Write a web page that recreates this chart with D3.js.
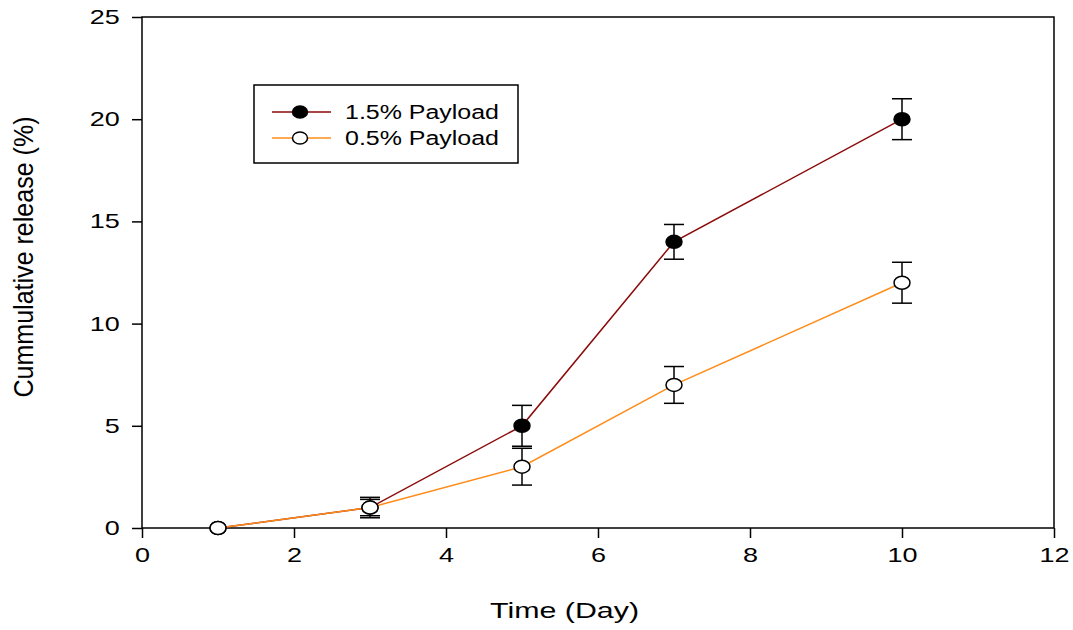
<!DOCTYPE html>
<html>
<head>
<meta charset="utf-8">
<script src="https://cdn.jsdelivr.net/npm/d3@7"></script>
<style>
  body { margin: 0; background: #fff; }
  text { font-family: "Liberation Sans", Arial, sans-serif; }
</style>
</head>
<body>
<div id="chart"></div>
<script>
// du lieu doc tu hinh
var days = [1, 3, 5, 7, 10];
var payload15 = [0, 1, 5, 14, 20];
var err15 = [0, 0.5, 1.0, 0.85, 1.0];
var payload05 = [0, 1, 3, 7, 12];
var err05 = [0, 0.4, 0.9, 0.9, 1.0];
var xTicks = [0, 2, 4, 6, 8, 10, 12];
var yTicks = [0, 5, 10, 15, 20, 25];
var labels = ["1.5% Payload", "0.5% Payload"];

var width = 1073;
var height = 630;
var margin = {top: 17, right: 19, bottom: 102, left: 142};
var w = width - margin.left - margin.right;
var h = height - margin.top - margin.bottom;
var stretch = 1.35; // chu trong hinh goc bi keo gian ngang

var svg = d3.select("#chart")
  .append("svg")
  .attr("width", width)
  .attr("height", height)
  .append("g")
  .attr("transform", "translate(" + margin.left + "," + margin.top + ")");

var x = d3.scaleLinear().domain([0, 12]).range([0, w]);
var y = d3.scaleLinear().domain([0, 25]).range([h, 0]);

// khung
svg.append("rect")
  .attr("width", w).attr("height", h)
  .attr("fill", "none").attr("stroke", "#000").attr("stroke-width", 1.5);

// truc x
var gx = svg.append("g")
  .attr("transform", "translate(0," + h + ")")
  .call(d3.axisBottom(x).tickValues(xTicks).tickSize(10).tickPadding(10));
gx.select(".domain").remove();
gx.selectAll("line").attr("stroke-width", 1.5);
gx.selectAll("text").attr("font-size", "20px").attr("font-family", "Liberation Sans, Arial")
  .attr("transform", "scale(" + stretch + ",1)");

// truc y
var gy = svg.append("g")
  .call(d3.axisLeft(y).tickValues(yTicks).tickSize(10).tickPadding(6.5));
gy.select(".domain").remove();
gy.selectAll("line").attr("stroke-width", 1.5);
gy.selectAll("text").attr("font-size", "20px").attr("font-family", "Liberation Sans, Arial")
  .attr("transform", "scale(" + stretch + ",1)");

var series = [
  {vals: payload15, errs: err15, color: "#8b0a0a", fill: "#000"},
  {vals: payload05, errs: err05, color: "#ff8c1a", fill: "#fff"}
];

var line = d3.line()
  .x(function(d) { return x(d[0]); })
  .y(function(d) { return y(d[1]); });

series.forEach(function(s) {
  var pts = days.map(function(d, i) { return [d, s.vals[i], s.errs[i]]; });

  svg.append("path")
    .datum(pts)
    .attr("d", line)
    .attr("fill", "none")
    .attr("stroke", s.color)
    .attr("stroke-width", 1.5);

  // error bars
  var eb = svg.append("g").selectAll("g")
    .data(pts.filter(function(d) { return d[2] > 0; }))
    .enter().append("g")
    .attr("stroke", "#000").attr("stroke-width", 1.5);
  eb.append("line")
    .attr("x1", function(d) { return x(d[0]); })
    .attr("x2", function(d) { return x(d[0]); })
    .attr("y1", function(d) { return y(d[1] + d[2]); })
    .attr("y2", function(d) { return y(d[1] - d[2]); });
  eb.append("line")
    .attr("x1", function(d) { return x(d[0]) - 10; })
    .attr("x2", function(d) { return x(d[0]) + 10; })
    .attr("y1", function(d) { return y(d[1] + d[2]); })
    .attr("y2", function(d) { return y(d[1] + d[2]); });
  eb.append("line")
    .attr("x1", function(d) { return x(d[0]) - 10; })
    .attr("x2", function(d) { return x(d[0]) + 10; })
    .attr("y1", function(d) { return y(d[1] - d[2]); })
    .attr("y2", function(d) { return y(d[1] - d[2]); });

  s.pts = pts;
});

// markers
series.forEach(function(s) {
  svg.append("g").selectAll("ellipse")
    .data(s.pts)
    .enter().append("ellipse")
    .attr("cx", function(d) { return x(d[0]); })
    .attr("cy", function(d) { return y(d[1]); })
    .attr("rx", 8).attr("ry", 6.5)
    .attr("fill", s.fill)
    .attr("stroke", "#000").attr("stroke-width", 1.5);
});

// legend
var lg = svg.append("g").attr("transform", "translate(" + (254 - margin.left) + "," + (85 - margin.top) + ")");
lg.append("rect").attr("width", 264).attr("height", 78)
  .attr("fill", "#fff").attr("stroke", "#000").attr("stroke-width", 1.5);
series.forEach(function(s, i) {
  var yy = 27 + i * 26;
  lg.append("line").attr("x1", 18).attr("x2", 77).attr("y1", yy).attr("y2", yy)
    .attr("stroke", s.color).attr("stroke-width", 1.5);
  lg.append("ellipse").attr("cx", 46).attr("cy", yy).attr("rx", 7.5).attr("ry", 6)
    .attr("fill", s.fill).attr("stroke", "#000").attr("stroke-width", 1.5);
  lg.append("text").attr("x", 91).attr("y", yy + 7)
    .attr("font-size", "20px")
    .attr("textLength", 154)
    .attr("lengthAdjust", "spacingAndGlyphs")
    .text(labels[i]);
});

// ten truc
svg.append("text")
  .attr("x", 564.5 - margin.left).attr("y", h + 90)
  .attr("text-anchor", "middle")
  .attr("font-size", "22px")
  .attr("textLength", 149)
  .attr("lengthAdjust", "spacingAndGlyphs")
  .text("Time (Day)");

svg.append("text")
  .attr("transform", "translate(" + (33 - margin.left) + "," + (257 - margin.top) + ") scale(" + stretch + ",1) rotate(-90)")
  .attr("text-anchor", "middle")
  .attr("font-size", "21px")
  .attr("textLength", 281)
  .attr("lengthAdjust", "spacingAndGlyphs")
  .text("Cummulative release (%)");
</script>
</body>
</html>
